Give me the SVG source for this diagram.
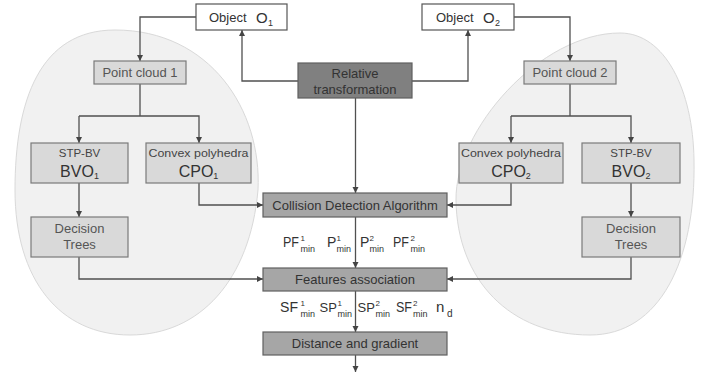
<svg xmlns="http://www.w3.org/2000/svg" width="714" height="378" viewBox="0 0 714 378">
<defs>
<marker id="ah" markerUnits="userSpaceOnUse" markerWidth="7" markerHeight="7" refX="6" refY="3" orient="auto">
<path d="M0,0 L6,3 L0,6 z" fill="#444"/>
</marker>
<style>
text{font-family:"Liberation Sans",Arial,sans-serif;fill:#333}
.blob{fill:#f1f1f1;stroke:#d9d9d9;stroke-width:1}
.wb{fill:#fff;stroke:#555;stroke-width:1.2}
.lb{fill:#d9d9d9;stroke:#7a7a7a;stroke-width:1.2}
.cb{fill:#a6a6a6;stroke:#606060;stroke-width:1.2}
.db{fill:#808080;stroke:#606060;stroke-width:1.2}
.c{fill:none;stroke:#505050;stroke-width:1.3}
.ca{fill:none;stroke:#505050;stroke-width:1.3;marker-end:url(#ah)}
.t13{font-size:13px}
.t11{font-size:11.5px;fill:#444}
.big{font-size:16px;fill:#333}
.sub{font-size:9px}
.sup{font-size:8px}
.lab{font-size:14px;fill:#333}
.g{fill:#555}
</style>
</defs>
<g id="blobs">
<path class="blob" d="M 115,30 C 40,30 15,100 15,190 C 15,280 60,335 130,335 C 200,335 250,280 258,190 C 262,110 210,30 115,30 Z"/>
<path class="blob" d="M 620,33 C 665,33 693,90 694,160 C 696,260 660,335 590,335 C 510,335 457,280 456,200 C 455,130 540,33 620,33 Z"/>
</g>
<g id="connectors">
<polyline class="ca" points="196,17 140,17 140,61"/>
<polyline class="ca" points="514,17 570,17 570,61"/>
<polyline class="ca" points="298,81 242,81 242,30"/>
<polyline class="ca" points="412,81 468,81 468,30"/>
<line class="c" x1="140" y1="84" x2="140" y2="116"/>
<polyline class="ca" points="79,116 79,143"/>
<polyline class="ca" points="79,116 199,116 199,143"/>
<line class="c" x1="570" y1="84" x2="570" y2="116"/>
<polyline class="ca" points="511,116 511,143"/>
<polyline class="ca" points="511,116 631,116 631,143"/>
<line class="ca" x1="79" y1="183" x2="79" y2="217"/>
<line class="ca" x1="631" y1="183" x2="631" y2="217"/>
<polyline class="ca" points="199,183 199,205 263,205"/>
<polyline class="ca" points="511,183 511,205 447,205"/>
<polyline class="ca" points="79,257 79,279 263,279"/>
<polyline class="ca" points="631,257 631,279 447,279"/>
<line class="ca" x1="355.5" y1="98" x2="355.5" y2="193"/>
<line class="ca" x1="355.5" y1="217" x2="355.5" y2="268"/>
<line class="ca" x1="355.5" y1="291" x2="355.5" y2="332"/>
<line class="ca" x1="355.5" y1="355" x2="355.5" y2="372"/>
</g>
<g id="object1">
<rect class="wb" x="196" y="4" width="91" height="26"/>
<text class="t13" x="209" y="22">Object</text>
<text class="big" x="256" y="23" style="font-size:15px">O</text>
<text class="sub" x="268" y="26">1</text>
</g>
<g id="object2">
<rect class="wb" x="422" y="4" width="92" height="26"/>
<text class="t13" x="436" y="22">Object</text>
<text class="big" x="483" y="23" style="font-size:15px">O</text>
<text class="sub" x="495" y="26">2</text>
</g>
<g id="relative">
<rect class="db" x="298" y="63" width="114" height="35"/>
<text class="t13" x="355" y="78" text-anchor="middle">Relative</text>
<text class="t13" x="355" y="94" text-anchor="middle">transformation</text>
</g>
<g id="pointcloud1">
<rect class="lb" x="94" y="61" width="92" height="23"/>
<text class="t13 g" x="140" y="77" text-anchor="middle">Point cloud 1</text>
</g>
<g id="pointcloud2">
<rect class="lb" x="524" y="61" width="92" height="23"/>
<text class="t13 g" x="570" y="77" text-anchor="middle">Point cloud 2</text>
</g>
<g id="bvo1">
<rect class="lb" x="31" y="143" width="97" height="40"/>
<text class="t11" x="79.5" y="157" text-anchor="middle">STP-BV</text>
<text class="big" x="79.5" y="177" text-anchor="middle">BVO<tspan class="sub" dy="2">1</tspan></text>
</g>
<g id="cpo1">
<rect class="lb" x="146" y="143" width="105" height="40"/>
<text class="t11" x="198.5" y="157" text-anchor="middle" textLength="100" lengthAdjust="spacingAndGlyphs">Convex polyhedra</text>
<text class="big" x="198.5" y="177" text-anchor="middle">CPO<tspan class="sub" dy="2">1</tspan></text>
</g>
<g id="cpo2">
<rect class="lb" x="459" y="143" width="104" height="40"/>
<text class="t11" x="511" y="157" text-anchor="middle" textLength="100" lengthAdjust="spacingAndGlyphs">Convex polyhedra</text>
<text class="big" x="511" y="177" text-anchor="middle">CPO<tspan class="sub" dy="2">2</tspan></text>
</g>
<g id="bvo2">
<rect class="lb" x="582" y="143" width="98" height="40"/>
<text class="t11" x="631" y="157" text-anchor="middle">STP-BV</text>
<text class="big" x="631" y="177" text-anchor="middle">BVO<tspan class="sub" dy="2">2</tspan></text>
</g>
<g id="trees1">
<rect class="lb" x="31" y="217" width="97" height="40"/>
<text class="t13 g" x="79.5" y="233" text-anchor="middle">Decision</text>
<text class="t13 g" x="79.5" y="249" text-anchor="middle">Trees</text>
</g>
<g id="trees2">
<rect class="lb" x="582" y="217" width="98" height="40"/>
<text class="t13 g" x="631" y="233" text-anchor="middle">Decision</text>
<text class="t13 g" x="631" y="249" text-anchor="middle">Trees</text>
</g>
<g id="collision">
<rect class="cb" x="263" y="193" width="184" height="24"/>
<text class="t13" x="355" y="210" text-anchor="middle">Collision Detection Algorithm</text>
</g>
<g id="features">
<rect class="cb" x="263" y="268" width="184" height="23"/>
<text class="t13" x="355" y="284" text-anchor="middle">Features association</text>
</g>
<g id="distance">
<rect class="cb" x="263" y="332" width="184" height="23"/>
<text class="t13" x="355" y="348" text-anchor="middle">Distance and gradient</text>
</g>
<g id="labels1">
<text class="lab" x="283" y="247" textLength="16" lengthAdjust="spacingAndGlyphs">PF</text><text class="sup" x="300.5" y="241">1</text><text class="sub" x="300.5" y="252">min</text>
<text class="lab" x="327" y="247">P</text><text class="sup" x="336.5" y="241">1</text><text class="sub" x="336.5" y="252">min</text>
<text class="lab" x="360" y="247">P</text><text class="sup" x="369.5" y="241">2</text><text class="sub" x="369.5" y="252">min</text>
<text class="lab" x="393" y="247" textLength="16" lengthAdjust="spacingAndGlyphs">PF</text><text class="sup" x="410.5" y="241">2</text><text class="sub" x="410.5" y="252">min</text>
</g>
<g id="labels2">
<text class="lab" x="280" y="312" textLength="18" lengthAdjust="spacingAndGlyphs">SF</text><text class="sup" x="300.5" y="306">1</text><text class="sub" x="300.5" y="317">min</text>
<text class="lab" x="319.5" y="312" style="font-size:13px">SP</text><text class="sup" x="337.5" y="306">1</text><text class="sub" x="337.5" y="317">min</text>
<text class="lab" x="357.5" y="312" style="font-size:13px">SP</text><text class="sup" x="375.5" y="306">2</text><text class="sub" x="375.5" y="317">min</text>
<text class="lab" x="396" y="312" textLength="16" lengthAdjust="spacingAndGlyphs">SF</text><text class="sup" x="413" y="306">2</text><text class="sub" x="413" y="317">min</text>
<text class="lab" x="436" y="312" style="font-size:15px">n</text><text class="sub" x="447" y="317" style="font-size:10px">d</text>
</g>
</svg>
